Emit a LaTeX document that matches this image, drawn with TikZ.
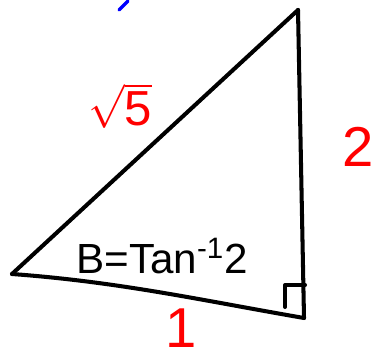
\documentclass[tikz,border=0pt]{standalone}
\usepackage{amsmath}
\usepackage{fontspec}
\setmainfont{Liberation Sans}
\usepackage{tikz}
\usetikzlibrary{arrows.meta}

\begin{document}
\begin{tikzpicture}[x=0.02cm, y=-0.02cm, every node/.style={inner sep=0pt},
  pen/.style={line width=2.3pt, line cap=round, line join=round},
  sidelabel/.style={red, font=\fontsize{32}{32}\selectfont}]
\useasboundingbox (0,0) rectangle (381,357);
% The corners
\coordinate (A) at (12,274);
\coordinate (C) at (298,10);
\coordinate (B) at (304,318);
% Draw the triangle
\draw[pen] (A) -- (C);
\draw[pen] (C) -- (B);
\draw[pen] (B) .. controls (200,300) and (120,282) .. (A);
% The right angle
\draw[pen] (285,307) -- (285,285) -- (305,285);

% The side lengths
\node[sidelabel, font=\fontsize{28}{28}\selectfont] (hyp) at (120,106) {$\sqrt{\text{5}}$};
\node[sidelabel] (opp) at (358,147) {2};
\node[sidelabel] (adj) at (181,328) {1};

% The angle
\node[font=\fontsize{24}{24}\selectfont] (ang) at (162,256) {B=Tan\textsuperscript{-1}2};

% Blue stroke at the top
\draw[blue, line width=2pt, line cap=round] (119,10) -- (128,1);
\end{tikzpicture}
\end{document}
